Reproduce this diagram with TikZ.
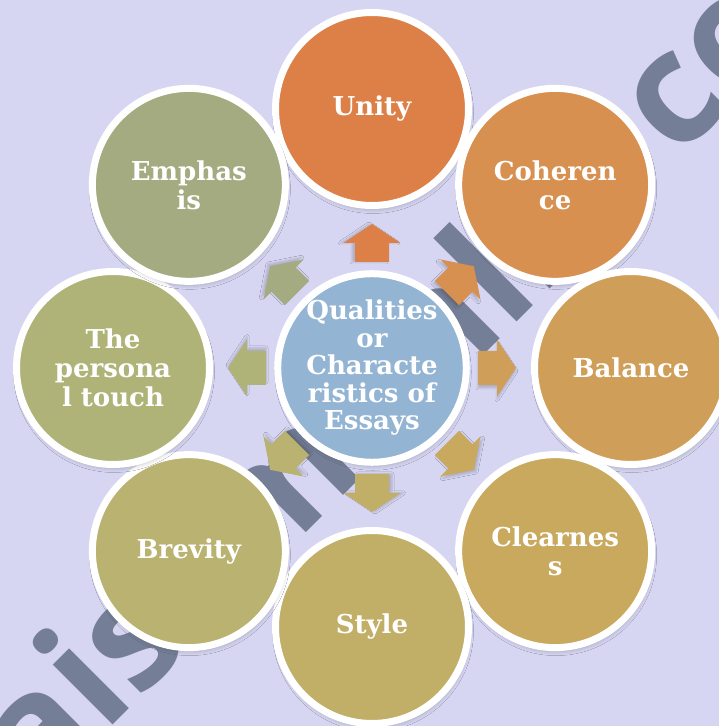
\documentclass[tikz,border=0pt]{standalone}
\usepackage{fontspec}
\setmainfont{DejaVu Serif}
\newfontfamily\wmfont{Open Sans}
\usetikzlibrary{calc,shadows.blur}

\definecolor{bglav}{HTML}{D6D6F2}
\definecolor{wmgray}{HTML}{747E96}
\definecolor{cCore}{HTML}{93B4D2}
\definecolor{cUnity}{HTML}{DD8047}
\definecolor{cCoher}{HTML}{D79050}
\definecolor{cBal}{HTML}{CF9E58}
\definecolor{cClear}{HTML}{C8A95D}
\definecolor{cStyle}{HTML}{C1AE67}
\definecolor{cBrev}{HTML}{B9B270}
\definecolor{cPers}{HTML}{B0B378}
\definecolor{cEmph}{HTML}{A5AB80}

% block arrow pointing away from the core at angle #1
\newcommand\essayarrow[2]{%
  \pgfmathsetmacro\shx{-3*sin(#1)}%
  \pgfmathsetmacro\shy{-3*cos(#1)}%
  \begin{scope}[shift={(ctr)}, rotate=#1]
    \fill[#2, blur shadow={shadow xshift=\shx pt, shadow yshift=\shy pt,
        shadow blur radius=2pt, shadow opacity=18}]
      (106,-17) -- (125,-17) -- (125,-28.5) -- (144,0) -- (125,28.5)
      -- (125,17) -- (106,17) -- cycle;
  \end{scope}}

\begin{document}
\begin{tikzpicture}[x=1pt,y=1pt,
  bubble/.style={circle, minimum size=193pt, inner sep=0pt, draw=white,
    line width=7pt, text=white, align=center,
    font=\bfseries\fontsize{26}{29}\selectfont,
    blur shadow={shadow xshift=1pt, shadow yshift=-4pt,
      shadow blur radius=4pt, shadow opacity=22}},
  watermark/.style={anchor=base west, rotate=45, inner sep=0pt,
    text=wmgray, font=\wmfont\bfseries\fontsize{155}{155}\selectfont}]
\useasboundingbox (0,0) rectangle (719,726);
\clip (0,0) rectangle (719,726);
\fill[bglav] (0,0) rectangle (719,726);

% diagonal watermark behind the diagram
\node[watermark] (wm) at (38.5,-74.3) {aisomonlin\hspace{44pt}com};

\coordinate (ctr) at (372,358);

% arrows from the core towards each quality
\essayarrow{90}{cUnity}
\essayarrow{45}{cCoher}
\essayarrow{0}{cBal}
\essayarrow{-45}{cClear}
\essayarrow{-90}{cStyle}
\essayarrow{-135}{cBrev}
\essayarrow{180}{cPers}
\essayarrow{135}{cEmph}

% core and the eight qualities
\node[bubble, fill=cCore, minimum size=183pt,
  font=\bfseries\fontsize{26}{27.5}\selectfont] (core) at (ctr)
  {Qualities\\or\\Characte\\ristics of\\Essays};
\node[bubble, fill=cUnity] (unity) at ([shift={(90:259)}]ctr) {Unity};
\node[bubble, fill=cCoher] (coher) at ([shift={(45:259)}]ctr) {Coheren\\ce};
\node[bubble, fill=cBal]   (bal)   at ([shift={(0:259)}]ctr) {Balance};
\node[bubble, fill=cClear] (clear) at ([shift={(-45:259)}]ctr) {Clearnes\\s};
\node[bubble, fill=cStyle] (style) at ([shift={(-90:259)}]ctr) {Style};
\node[bubble, fill=cBrev]  (brev)  at ([shift={(-135:259)}]ctr) {Brevity};
\node[bubble, fill=cPers]  (pers)  at ([shift={(180:259)}]ctr) {The\\persona\\l touch};
\node[bubble, fill=cEmph]  (emph)  at ([shift={(135:259)}]ctr) {Emphas\\is};
\end{tikzpicture}
\end{document}
